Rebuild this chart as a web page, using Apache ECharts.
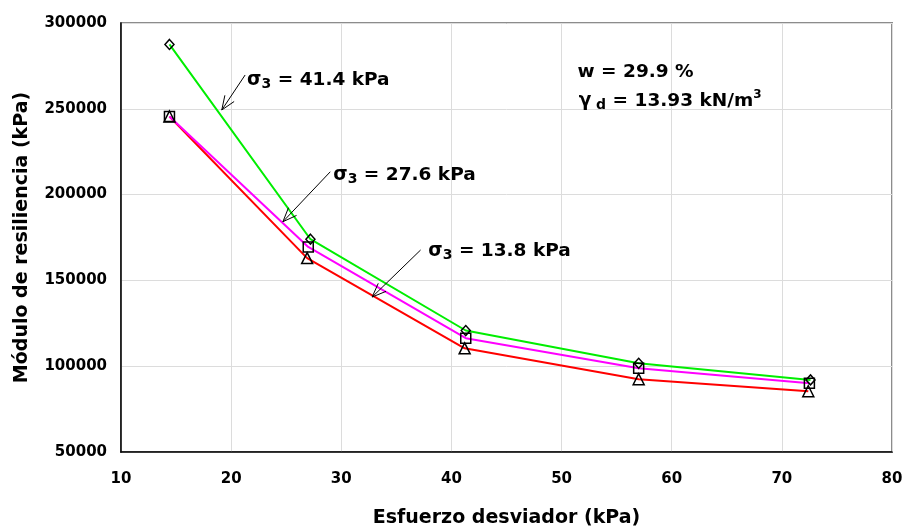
<!DOCTYPE html>
<html><head><meta charset="utf-8">
<script src="https://cdn.jsdelivr.net/npm/echarts@6/dist/echarts.min.js"></script>
<style>html,body{margin:0;padding:0;background:#fff}#c{width:904px;height:529px}</style>
</head><body><div id="c"></div>
<script>
const FONT = '"DejaVu Sans", "Liberation Sans", sans-serif';

// Data (x = Esfuerzo desviador kPa, y = Módulo de resiliencia kPa)
const x41 = [14.4, 27.2, 41.3, 57.0, 72.6];
const y41 = [287500, 174000, 120800, 101700, 92000];
const x27 = [14.4, 27.0, 41.3, 57.0, 72.5];
const y27 = [245500, 169500, 116300, 98800, 90000];
const x13 = [14.4, 26.9, 41.2, 57.0, 72.4];
const y13 = [245500, 163000, 110400, 92400, 85400];

const seriesNames = ['σ3 = 41.4 kPa', 'σ3 = 27.6 kPa', 'σ3 = 13.8 kPa'];
const sigmaValues = ['41.4', '27.6', '13.8'];
// annotation anchors in data coordinates: text left-middle, arrow start, arrow tip
const annText = [[21.45, 266800], [29.27, 211400], [37.9, 167100]];
const annFrom = [[21.27, 269700], [29.0, 213300], [37.2, 167700]];
const annTip  = [[19.15, 249300], [24.7, 184200], [32.8, 140300]];
const infoW = [51.45, 271400];
const infoG = [51.55, 254500];

const zip = (xs, ys) => xs.map((x, i) => [x, ys[i]]);

const chart = echarts.init(document.getElementById('c'));

function mkSeries(name, data, color, symbol, size) {
  return {
    name, type: 'line', data, symbol, symbolSize: size,
    lineStyle: { color, width: 2 },
    itemStyle: { color: 'rgba(0,0,0,0)', borderColor: '#000', borderWidth: 1.5 },
    emphasis: { disabled: true },
    z: 3
  };
}

const option = {
  animation: false,
  backgroundColor: '#fff',
  grid: { left: 121, right: 12, top: 23, bottom: 77, outerBoundsMode: 'none', containLabel: false,
          show: true, borderColor: '#8c8c8c', borderWidth: 2, backgroundColor: 'transparent' },
  xAxis: {
    type: 'value', min: 10, max: 80, interval: 10,
    name: 'Esfuerzo desviador (kPa)', nameLocation: 'middle', nameGap: 57,
    nameTextStyle: { fontFamily: FONT, fontWeight: 'bold', fontSize: 19, color: '#000' },
    axisLine: { show: true, lineStyle: { color: '#000', width: 1.5 } },
    axisTick: { show: false },
    axisLabel: { fontFamily: FONT, fontWeight: 'bold', fontSize: 15, color: '#000', margin: 20 },
    splitLine: { show: true, lineStyle: { color: '#dcdcdc', width: 1 } }
  },
  yAxis: {
    type: 'value', min: 50000, max: 300000, interval: 50000,
    name: 'Módulo de resiliencia (kPa)', nameLocation: 'middle', nameGap: 89,
    nameTextStyle: { fontFamily: FONT, fontWeight: 'bold', fontSize: 19, color: '#000' },
    axisLine: { show: true, lineStyle: { color: '#000', width: 1.5 } },
    axisTick: { show: false },
    axisLabel: { fontFamily: FONT, fontWeight: 'bold', fontSize: 15, color: '#000', margin: 14, formatter: v => String(v) },
    splitLine: { show: true, lineStyle: { color: '#dcdcdc', width: 1 } }
  },
  series: [
    mkSeries(seriesNames[2], zip(x13, y13), '#ff0000', 'triangle', 11),
    mkSeries(seriesNames[1], zip(x27, y27), '#ff00ff', 'rect', 10),
    mkSeries(seriesNames[0], zip(x41, y41), '#00ee00', 'diamond', [9, 10])
  ]
};
chart.setOption(option);

function px(p) { return chart.convertToPixel({ gridIndex: 0 }, p); }

const FS = 18.5;
const rich = {
  s: { fontFamily: FONT, fontWeight: 'bold', fontSize: FS, fill: '#000' },
  sub: { fontFamily: FONT, fontWeight: 'bold', fontSize: 14, fill: '#000', padding: [9, 0, 0, 0] },
  sup: { fontFamily: FONT, fontWeight: 'bold', fontSize: 12, fill: '#000', padding: [0, 0, 12, 0] },
  t: { fontFamily: FONT, fontWeight: 'bold', fontSize: FS, fill: '#000' }
};

const graphics = [];
for (let i = 0; i < 3; i++) {
  const tp = px(annText[i]);
  graphics.push({
    type: 'text', x: tp[0], y: tp[1], z: 10,
    style: { text: '{s|σ}{sub|3}{t| = ' + sigmaValues[i] + ' kPa}', rich, verticalAlign: 'middle', align: 'left' }
  });
  const a = px(annFrom[i]), b = px(annTip[i]);
  const ang = Math.atan2(a[1] - b[1], a[0] - b[0]);
  const L = 15, h = 0.38;
  graphics.push({ type: 'line', z: 10, shape: { x1: a[0], y1: a[1], x2: b[0], y2: b[1] }, style: { stroke: '#000', lineWidth: 1 } });
  graphics.push({ type: 'polyline', z: 10, shape: { points: [
    [b[0] + L * Math.cos(ang + h), b[1] + L * Math.sin(ang + h)],
    [b[0], b[1]],
    [b[0] + L * Math.cos(ang - h), b[1] + L * Math.sin(ang - h)]
  ] }, style: { stroke: '#000', lineWidth: 1, fill: null } });
}
const wp = px(infoW), gp = px(infoG);
graphics.push({ type: 'text', x: wp[0], y: wp[1], z: 10,
  style: { text: '{t|w = 29.9 %}', rich, verticalAlign: 'middle' } });
graphics.push({ type: 'text', x: gp[0], y: gp[1], z: 10,
  style: { text: '{s|γ}{sub| d}{t| = 13.93 kN/m}{sup|3}', rich, verticalAlign: 'middle' } });

chart.setOption({ graphic: graphics });
</script></body></html>
